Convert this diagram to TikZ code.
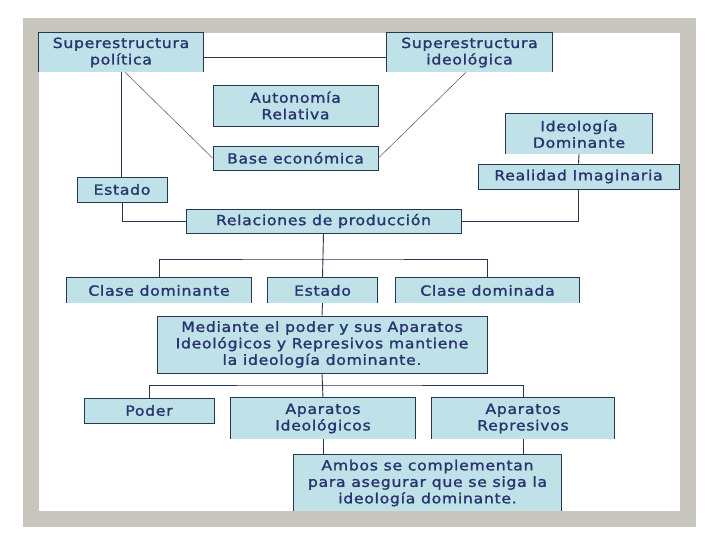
\documentclass[tikz,border=0pt]{standalone}
\usepackage{fontspec}
\setmainfont{DejaVu Sans}[LetterSpace=5,FakeBold=1.5,FakeStretch=1.12]
\definecolor{boxfill}{HTML}{BFE2E8}
\definecolor{boxline}{HTML}{2A3550}
\definecolor{txt}{HTML}{283470}
\definecolor{frame}{HTML}{C8C5BC}
\begin{document}
\begin{tikzpicture}[x=1pt,y=-1pt,
  every node/.style={font=\fontsize{14}{16.5}\selectfont, text=txt, align=center, inner sep=0pt},
  box/.style={fill=boxfill, draw=boxline, line width=0.9pt},
  obox/.style={fill=boxfill},
  conn/.style={draw=boxline, line width=0.9pt},
  thin/.style={draw=gray!80!black, line width=0.6pt}]
\useasboundingbox (0,0) rectangle (720,540);
\fill[white] (0,0) rectangle (720,540);
\fill[frame] (23,18) rectangle (696,527);
\fill[white] (39,33) rectangle (680,511);

% nodes
\node[obox, minimum width=164pt, minimum height=39pt] (sp) at (121,52.5) {Superestructura\\política};
\node[obox, minimum width=165pt, minimum height=39pt] (si) at (469.5,52.5) {Superestructura\\ideológica};
\node[box, minimum width=165pt, minimum height=41pt] (au) at (295.5,105.5) {Autonomía\\Relativa};
\node[box, minimum width=165pt, minimum height=24pt] (be) at (295.5,158) {Base económica};
\node[obox, minimum width=146pt, minimum height=40pt] (id) at (579,134) {Ideología\\Dominante};
\node[box, minimum width=201pt, minimum height=25pt] (ri) at (578.5,176.5) {Realidad Imaginaria};
\node[box, minimum width=90pt, minimum height=25pt] (e1) at (122,189.5) {Estado};
\node[box, minimum width=275pt, minimum height=24pt] (rp) at (323.5,221) {Relaciones de producción};
\node[obox, minimum width=184pt, minimum height=25pt] (cd) at (159,290.5) {Clase dominante};
\node[obox, minimum width=109pt, minimum height=25pt] (e2) at (322.5,290.5) {Estado};
\node[obox, minimum width=183pt, minimum height=25pt] (cda) at (487.5,290.5) {Clase dominada};
\node[box, minimum width=330pt, minimum height=57pt] (me) at (322,344.5) {Mediante el poder y sus Aparatos\\Ideológicos y Represivos mantiene\\la ideología dominante.};
\node[box, minimum width=130pt, minimum height=25pt] (po) at (149,410.5) {Poder};
\node[obox, minimum width=184pt, minimum height=41pt] (ai) at (323,418.5) {Aparatos\\Ideológicos};
\node[obox, minimum width=182pt, minimum height=41pt] (ar) at (523,418.5) {Aparatos\\Represivos};
\node[obox, minimum width=267pt, minimum height=56pt] (am) at (427.5,483) {Ambos se complementan\\para asegurar que se siga la\\ideología dominante.};

% open box borders (no bottom line)
\foreach \n in {sp,si,id,cd,e2,cda,ai,ar,am}
  \draw[conn] (\n.south west) |- (\n.north east) -- (\n.south east);

% connectors
\draw[conn] ([yshift=-4.5pt]sp.east) -- ([yshift=-4.5pt]si.west);
\draw[thin] ([xshift=4pt]sp.south) -- (be.west);
\draw[thin] ([xshift=-3.5pt]si.south) -- (be.east);
\draw[conn] (sp.south) -- (e1.north -| sp.south);
\draw[conn] (e1.south) |- (rp.west);
\draw[conn] (id.south) -- (ri.north);
\draw[conn] (ri.south) |- (rp.east);
\coordinate (b1) at (323,259);
\draw[conn] (rp.south) -- (e2.north);
\draw[conn] (cd.north) |- (b1) -| (cda.north);
\draw[conn] (e2.south) -- (me.north);
\coordinate (b2) at (323,385);
\draw[conn] (me.south) -- (ai.north);
\draw[conn] (po.north) |- (b2) -| (ar.north);
\draw[conn] (ai.south) -- (ai.south |- am.north);
\draw[conn] (ar.south) -- (ar.south |- am.north);
\end{tikzpicture}
\end{document}
